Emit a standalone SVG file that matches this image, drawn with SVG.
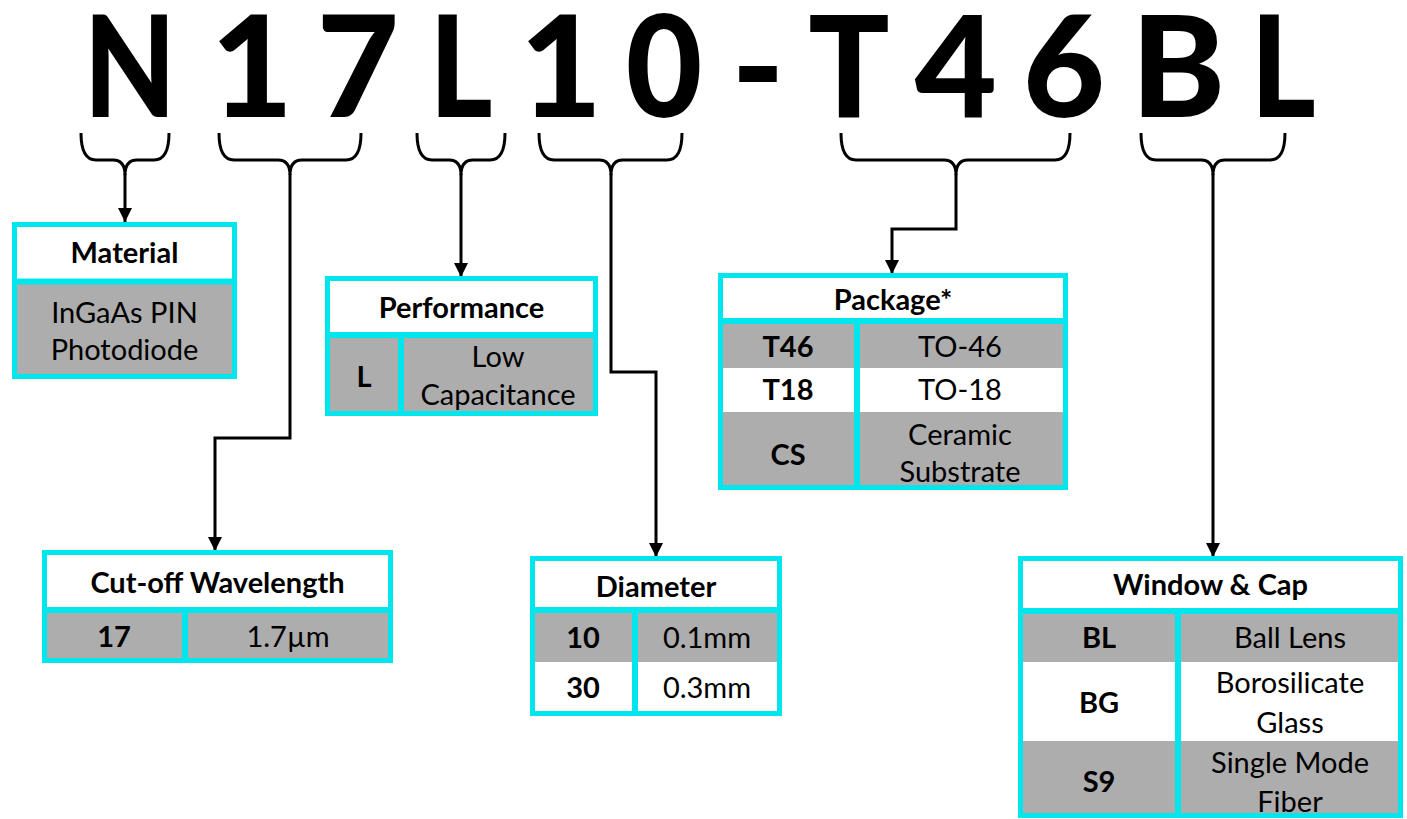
<svg xmlns="http://www.w3.org/2000/svg" width="1407" height="819" viewBox="0 0 1407 819">
<defs>
<style>
.big{font-family:Lato,"Liberation Sans",sans-serif;font-weight:900;font-size:142px;fill:#000;text-anchor:middle}
.h{font-family:Lato,"Liberation Sans",sans-serif;font-weight:700;font-size:29px;fill:#000;text-anchor:middle}
.t{font-family:Lato,"Liberation Sans",sans-serif;font-weight:400;font-size:29px;fill:#000;text-anchor:middle}
.outer{fill:#fff;stroke:#00E6EC;stroke-width:5}
.frame{fill:none;stroke:#00E6EC;stroke-width:5}
.sep{stroke:#00E6EC;stroke-width:6;fill:none}
.gray{fill:#ADADAD}
.brace{fill:none;stroke:#000;stroke-width:3}
.conn{fill:none;stroke:#000;stroke-width:3;marker-end:url(#arr)}
</style>
<marker id="arr" markerUnits="userSpaceOnUse" markerWidth="14" markerHeight="14" refX="14" refY="7" orient="auto" viewBox="0 0 14 14">
<path d="M0,0 L14,7 L0,14 Z" fill="#000"/>
</marker>
</defs>

<g id="code">
<text class="big" transform="translate(130,117) scale(0.84,1)">N</text>
<text class="big" transform="translate(252,117)">1</text>
<text class="big" transform="translate(358,117)">7</text>
<text class="big" transform="translate(461,117) scale(0.85,1)">L</text>
<text class="big" transform="translate(561,117)">1</text>
<text class="big" transform="translate(664,117) scale(0.93,1)">0</text>
<text class="big" transform="translate(758,117)">-</text>
<text class="big" transform="translate(849,117) scale(0.95,1)">T</text>
<text class="big" transform="translate(956,117)">4</text>
<text class="big" transform="translate(1064,117)">6</text>
<text class="big" transform="translate(1178,117)">B</text>
<text class="big" transform="translate(1283,117) scale(0.88,1)">L</text>
</g>

<g id="connectors">
<path class="brace" d="M81,133 Q81,160 96,160 H113 Q125,160 125,175 Q125,160 137,160 H154 Q169,160 169,133"/>
<path class="brace" d="M219,133 Q219,160 234,160 H278 Q290,160 290,175 Q290,160 302,160 H346 Q361,160 361,133"/>
<path class="brace" d="M417,133 Q417,160 432,160 H449 Q461,160 461,175 Q461,160 473,160 H490 Q505,160 505,133"/>
<path class="brace" d="M539,133 Q539,160 554,160 H599 Q611,160 611,175 Q611,160 623,160 H667 Q682,160 682,133"/>
<path class="brace" d="M841,133 Q841,160 856,160 H944 Q956,160 956,175 Q956,160 968,160 H1055 Q1070,160 1070,133"/>
<path class="brace" d="M1141,133 Q1141,160 1156,160 H1201 Q1213,160 1213,175 Q1213,160 1225,160 H1270 Q1285,160 1285,133"/>
<path class="conn" d="M125,174 V222"/>
<path class="conn" d="M290,174 V438 H215 V551"/>
<path class="conn" d="M461,174 V277"/>
<path class="conn" d="M611,174 V372 H656 V557"/>
<path class="conn" d="M956,174 V229 H892 V274"/>
<path class="conn" d="M1213,174 V557"/>
</g>

<g id="material">
<rect class="outer" x="14.5" y="224.5" width="220" height="152"/>
<rect class="gray" x="14.5" y="281.5" width="220" height="95"/>
<rect class="frame" x="14.5" y="224.5" width="220" height="152"/>
<line class="sep" x1="14.5" y1="281.5" x2="234.5" y2="281.5"/>
<text class="h" x="124.5" y="263">Material</text>
<text class="t" x="124.5" y="322.5">InGaAs PIN</text>
<text class="t" x="124.5" y="359.5">Photodiode</text>
</g>

<g id="performance">
<rect class="outer" x="327.5" y="278.5" width="268" height="135"/>
<rect class="gray" x="327.5" y="335" width="268" height="78.5"/>
<rect class="frame" x="327.5" y="278.5" width="268" height="135"/>
<line class="sep" x1="327.5" y1="335" x2="595.5" y2="335"/>
<line class="sep" x1="401" y1="335" x2="401" y2="413.5"/>
<text class="h" x="461.5" y="318">Performance</text>
<text class="h" x="364" y="387">L</text>
<text class="t" x="498" y="367">Low</text>
<text class="t" x="498" y="405">Capacitance</text>
</g>

<g id="cutoff">
<rect class="outer" x="44.5" y="552.5" width="346" height="108"/>
<rect class="gray" x="44.5" y="610" width="346" height="50.5"/>
<rect class="frame" x="44.5" y="552.5" width="346" height="108"/>
<line class="sep" x1="44.5" y1="610" x2="390.5" y2="610"/>
<line class="sep" x1="185" y1="610" x2="185" y2="660.5"/>
<text class="h" x="217.5" y="593">Cut-off Wavelength</text>
<text class="h" x="114" y="647">17</text>
<text class="t" x="288" y="647">1.7µm</text>
</g>

<g id="diameter">
<rect class="outer" x="532.5" y="558.5" width="247" height="155"/>
<rect class="gray" x="532.5" y="610" width="247" height="52"/>
<rect class="frame" x="532.5" y="558.5" width="247" height="155"/>
<line class="sep" x1="532.5" y1="610" x2="779.5" y2="610"/>
<line class="sep" x1="635" y1="610" x2="635" y2="713.5"/>
<text class="h" x="656" y="597">Diameter</text>
<text class="h" x="583" y="648">10</text>
<text class="t" x="707" y="648">0.1mm</text>
<text class="h" x="583" y="698">30</text>
<text class="t" x="707" y="698">0.3mm</text>
</g>

<g id="package">
<rect class="outer" x="720.5" y="275.5" width="345" height="212"/>
<rect class="gray" x="720.5" y="321" width="345" height="47"/>
<rect class="gray" x="720.5" y="412" width="345" height="75.5"/>
<rect class="frame" x="720.5" y="275.5" width="345" height="212"/>
<line class="sep" x1="720.5" y1="321" x2="1065.5" y2="321"/>
<line class="sep" x1="857" y1="321" x2="857" y2="487.5"/>
<text class="h" x="893" y="310">Package*</text>
<text class="h" x="788" y="357">T46</text>
<text class="t" x="960" y="357">TO-46</text>
<text class="h" x="788" y="400">T18</text>
<text class="t" x="960" y="400">TO-18</text>
<text class="h" x="788" y="465">CS</text>
<text class="t" x="960" y="445">Ceramic</text>
<text class="t" x="960" y="482">Substrate</text>
</g>

<g id="window">
<rect class="outer" x="1020.5" y="558.5" width="380" height="257"/>
<rect class="gray" x="1020.5" y="611" width="380" height="51"/>
<rect class="gray" x="1020.5" y="741" width="380" height="74.5"/>
<rect class="frame" x="1020.5" y="558.5" width="380" height="257"/>
<line class="sep" x1="1020.5" y1="611" x2="1400.5" y2="611"/>
<line class="sep" x1="1178" y1="611" x2="1178" y2="815.5"/>
<text class="h" x="1210.5" y="595">Window &amp; Cap</text>
<text class="h" x="1099" y="648">BL</text>
<text class="t" x="1290" y="648">Ball Lens</text>
<text class="h" x="1099" y="713">BG</text>
<text class="t" x="1290" y="693">Borosilicate</text>
<text class="t" x="1290" y="733">Glass</text>
<text class="h" x="1099" y="792">S9</text>
<text class="t" x="1290" y="773">Single Mode</text>
<text class="t" x="1290" y="812">Fiber</text>
</g>
</svg>
